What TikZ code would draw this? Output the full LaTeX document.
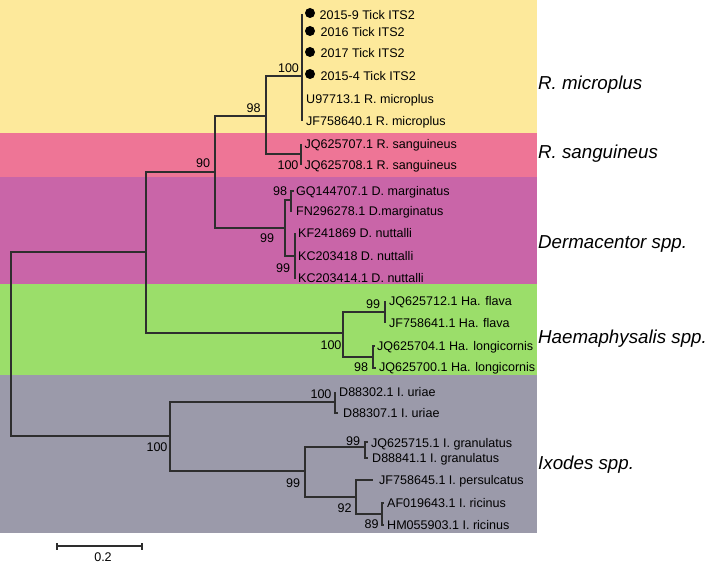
\documentclass[tikz,border=0pt]{standalone}
\usepackage{fontspec}
\setmainfont{Liberation Sans}
\definecolor{bandY}{RGB}{253,233,155}
\definecolor{bandP}{RGB}{238,117,150}
\definecolor{bandM}{RGB}{201,101,168}
\definecolor{bandG}{RGB}{155,222,106}
\definecolor{bandX}{RGB}{155,154,170}
\begin{document}
\begin{tikzpicture}[x=1bp,y=-1bp,
  br/.style={line width=1.1bp, draw=black!82},
  leaf/.style={anchor=west, inner sep=0pt, text height=9bp, text depth=0pt, font=\fontsize{12.6}{14}\selectfont},
  boot/.style={inner sep=0pt, text height=9bp, text depth=0pt, font=\fontsize{12.6}{14}\selectfont},
  clade/.style={anchor=west, inner sep=0pt, text height=13.4bp, text depth=0pt, font=\fontsize{18.8}{21}\selectfont\itshape},
  dot/.style={circle, fill=black, inner sep=0pt, minimum size=10bp}]
\useasboundingbox (0,0) rectangle (709,566);
% bands
\fill[bandY] (0,0) rectangle (537,133);
\fill[bandP] (0,133) rectangle (537,177);
\fill[bandM] (0,177) rectangle (537,284);
\fill[bandG] (0,284) rectangle (537,375);
\fill[bandX] (0,375) rectangle (537,533);
% internal nodes
\coordinate (r) at (11,344);
\coordinate (A) at (146,252);
\coordinate (B) at (215,172);
\coordinate (C) at (266,116);
\coordinate (D) at (302,76);
\coordinate (E) at (301,154);
\coordinate (F) at (285,228);
\coordinate (G) at (291,200);
\coordinate (H) at (295,256);
\coordinate (I) at (343,333);
\coordinate (J) at (385,312);
\coordinate (K) at (373,357);
\coordinate (L) at (170,436);
\coordinate (M) at (335,402);
\coordinate (N) at (305,471);
\coordinate (O) at (365,447);
\coordinate (P) at (356,497);
\coordinate (Q) at (382,514);
% tips
\coordinate (t1) at (302,14);
\coordinate (t2) at (302,32);
\coordinate (t3) at (302,53);
\coordinate (t4) at (302,76);
\coordinate (t5) at (302,99);
\coordinate (t6) at (302,121);
\coordinate (t7) at (301,144);
\coordinate (t8) at (301,165);
\coordinate (t9) at (294,191);
\coordinate (t10) at (292,211);
\coordinate (t11) at (295,233);
\coordinate (t12) at (295,256);
\coordinate (t13) at (295,279);
\coordinate (t14) at (385,301);
\coordinate (t15) at (385,323);
\coordinate (t16) at (375,346);
\coordinate (t17) at (376,368);
\coordinate (t18) at (335,392);
\coordinate (t19) at (338,413);
\coordinate (t20) at (368,442);
\coordinate (t21) at (368,458);
\coordinate (t22) at (373,480);
\coordinate (t23) at (384,503);
\coordinate (t24) at (384,525);
% branches
\draw[br] (r) |- (A); \draw[br] (r) |- (L);
\draw[br] (A) |- (B); \draw[br] (A) |- (I);
\draw[br] (B) |- (C); \draw[br] (B) |- (F);
\draw[br] (C) |- (D); \draw[br] (C) |- (E);
\draw[br] (D) |- (t1); \draw[br] (D) |- (t6);
\draw[br] (E) |- (t7); \draw[br] (E) |- (t8);
\draw[br] (F) |- (G); \draw[br] (F) |- (H);
\draw[br] (G) |- (t9); \draw[br] (G) |- (t10);
\draw[br] (H) |- (t11); \draw[br] (H) |- (t13);
\draw[br] (I) |- (J); \draw[br] (I) |- (K);
\draw[br] (J) |- (t14); \draw[br] (J) |- (t15);
\draw[br] (K) |- (t16); \draw[br] (K) |- (t17);
\draw[br] (L) |- (M); \draw[br] (L) |- (N);
\draw[br] (M) |- (t18); \draw[br] (M) |- (t19);
\draw[br] (N) |- (O); \draw[br] (N) |- (P);
\draw[br] (O) |- (t20); \draw[br] (O) |- (t21);
\draw[br] (P) |- (t22); \draw[br] (P) |- (Q);
\draw[br] (Q) |- (t23); \draw[br] (Q) |- (t24);
% dots
\node[dot] (d1) at (310,13) {};
\node[dot] (d2) at (310,31) {};
\node[dot] (d3) at (310,52) {};
\node[dot] (d4) at (310,74) {};
% leaf labels
\node[leaf] (l1) at (319.5,15) {2015-9 Tick ITS2};
\node[leaf] (l2) at (320.5,32) {2016 Tick ITS2};
\node[leaf] (l3) at (320.5,53) {2017 Tick ITS2};
\node[leaf] (l4) at (320.5,76) {2015-4 Tick ITS2};
\node[leaf] (l5) at (306,99) {U97713.1 R. microplus};
\node[leaf] (l6) at (306,121) {JF758640.1 R. microplus};
\node[leaf] (l7) at (304.5,144) {JQ625707.1 R. sanguineus};
\node[leaf] (l8) at (304.5,165) {JQ625708.1 R. sanguineus};
\node[leaf] (l9) at (296,191) {GQ144707.1 D. marginatus};
\node[leaf] (l10) at (296,211) {FN296278.1 D.marginatus};
\node[leaf] (l11) at (298,233) {KF241869 D. nuttalli};
\node[leaf] (l12) at (298,256) {KC203418 D. nuttalli};
\node[leaf] (l13) at (298,278) {KC203414.1 D. nuttalli};
\node[leaf] (l14) at (389,301) {JQ625712.1 Ha. flava};
\node[leaf] (l15) at (389,323) {JF758641.1 Ha. flava};
\node[leaf] (l16) at (377,346) {JQ625704.1 Ha. longicornis};
\node[leaf] (l17) at (379,367) {JQ625700.1 Ha. longicornis};
\node[leaf] (l18) at (339,392) {D88302.1 I. uriae};
\node[leaf] (l19) at (343,413) {D88307.1 I. uriae};
\node[leaf] (l20) at (371,443) {JQ625715.1 I. granulatus};
\node[leaf] (l21) at (372,458) {D88841.1 I. granulatus};
\node[leaf] (l22) at (379,480) {JF758645.1 I. persulcatus};
\node[leaf] (l23) at (387,503) {AF019643.1 I. ricinus};
\node[leaf] (l24) at (387,525) {HM055903.1 I. ricinus};
% bootstrap values
\node[boot] (b1) at (288.5,68) {100};
\node[boot] (b2) at (253.5,108) {98};
\node[boot] (b3) at (203,163) {90};
\node[boot] (b4) at (288,165.5) {100};
\node[boot] (b5) at (280,191.5) {98};
\node[boot] (b6) at (267,237.5) {99};
\node[boot] (b7) at (283,267.5) {99};
\node[boot] (b8) at (373,303.5) {99};
\node[boot] (b9) at (331,344.5) {100};
\node[boot] (b10) at (361,367) {98};
\node[boot] (b11) at (321,394) {100};
\node[boot] (b12) at (157,447) {100};
\node[boot] (b13) at (353,441) {99};
\node[boot] (b14) at (293,483) {99};
\node[boot] (b15) at (344.5,508) {92};
\node[boot] (b16) at (371.5,524) {89};
% clade labels
\node[clade] (c1) at (538,83) {R. microplus};
\node[clade] (c2) at (538,152) {R. sanguineus};
\node[clade] (c3) at (538,242) {Dermacentor spp.};
\node[clade] (c4) at (538,337) {Haemaphysalis spp.};
\node[clade] (c5) at (538,463) {Ixodes spp.};
% scale bar
\coordinate (s1) at (57,546);
\coordinate (s2) at (142,546);
\draw[br] (s1) -- (s2);
\draw[br] ([yshift=-3.5bp]s1) -- ([yshift=3.5bp]s1);
\draw[br] ([yshift=-3.5bp]s2) -- ([yshift=3.5bp]s2);
\node[boot] (sl) at (103,557) {0.2};
\end{tikzpicture}
\end{document}
